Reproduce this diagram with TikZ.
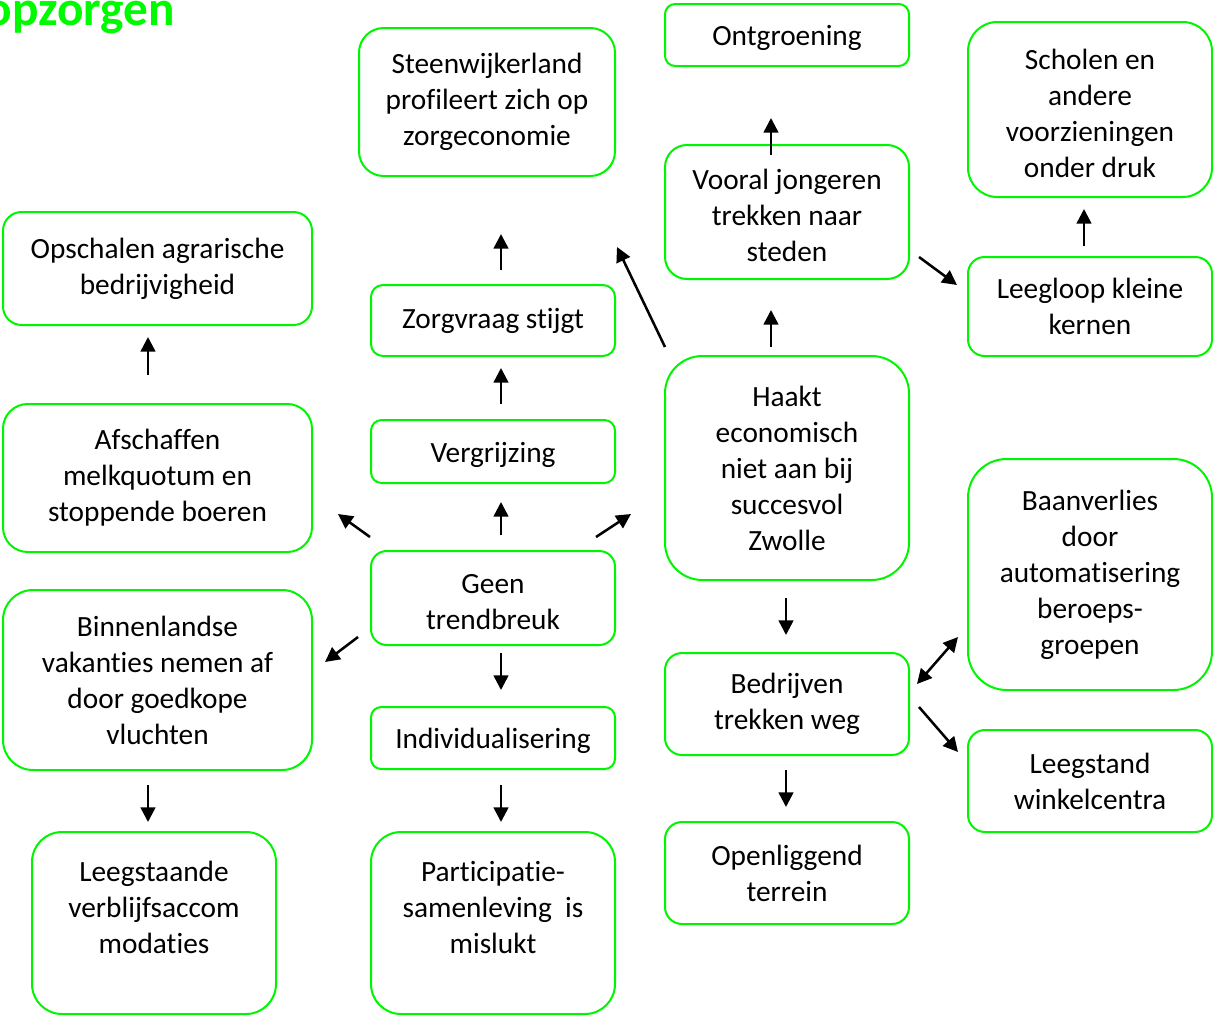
\documentclass[tikz,border=0pt]{standalone}
\usepackage{fontspec}
\setmainfont[Ligatures={NoCommon},RawFeature=-calt]{Carlito}
\usetikzlibrary{arrows.meta,calc}
\definecolor{boxgreen}{RGB}{0,245,0}
\definecolor{titlegreen}{RGB}{0,250,0}
\tikzset{
  box/.style={draw=boxgreen, line width=1.5pt, inner sep=0pt, outer sep=0pt, align=center,
    font=\fontsize{22}{27}\selectfont, text=black},
  oneline/.style={text height=16pt, text depth=0pt},
  arr/.style={line width=1.9pt, -{Triangle[length=11pt,width=11pt]}},
  darr/.style={line width=1.9pt, {Triangle[length=11pt,width=11pt]}-{Triangle[length=11pt,width=11pt]}}
}
\newcommand\topstrut{\rule{0pt}{20.5pt}}
\begin{document}
\begin{tikzpicture}[x=0.75pt,y=-0.75pt]
\useasboundingbox (0,0) rectangle (1213,1017);
\clip (0,0) rectangle (1213,1017);
\node[anchor=base east, inner sep=0pt, text=titlegreen, font=\fontsize{37}{40}\selectfont\bfseries] (title) at (175,26) {opzorgen};

\node[box, minimum width=192pt, minimum height=111pt, rounded corners=18.5pt] (steen) at (487,102) {Steenwijkerland\\profileert zich op\\zorgeconomie};
\node[box, oneline, minimum width=183pt, minimum height=46.5pt, rounded corners=7.7pt] (ontg) at (787,35) {Ontgroening};
\node[box, minimum width=183pt, minimum height=131.25pt, rounded corners=22pt] (scholen) at (1090,109.5) {\topstrut Scholen en\\andere\\voorzieningen\\onder druk};
\node[box, minimum width=231.75pt, minimum height=84.75pt, rounded corners=14pt] (opsch) at (157.5,268.5) {Opschalen agrarische\\bedrijvigheid};
\node[box, minimum width=183pt, minimum height=53.25pt, rounded corners=9pt] (zorg) at (493,320.5) {Zorgvraag stijgt};
\node[box, minimum width=183pt, minimum height=100.5pt, rounded corners=16.5pt] (vooral) at (787,212) {\topstrut Vooral jongeren\\trekken naar\\steden};
\node[box, minimum width=183pt, minimum height=74.25pt, rounded corners=12.4pt] (leegloop) at (1090,306.5) {Leegloop kleine\\kernen};
\node[box, minimum width=231.75pt, minimum height=111pt, rounded corners=18.5pt] (afsch) at (157.5,478) {Afschaffen\\melkquotum en\\stoppende boeren};
\node[box, oneline, minimum width=183pt, minimum height=47.25pt, rounded corners=8pt] (verg) at (493,451.5) {Vergrijzing};
\node[box, minimum width=183pt, minimum height=168pt, rounded corners=28pt] (haakt) at (787,468) {Haakt\\economisch\\niet aan bij\\succesvol\\Zwolle};
\node[box, minimum width=183pt, minimum height=173.25pt, rounded corners=29pt] (baan) at (1090,574.5) {Baanverlies\\door\\automatisering\\beroeps-\\groepen};
\node[box, minimum width=183pt, minimum height=70.5pt, rounded corners=11.8pt] (geen) at (493,598) {\topstrut Geen\\trendbreuk};
\node[box, minimum width=231.75pt, minimum height=135pt, rounded corners=22.5pt] (binnen) at (157.5,680) {Binnenlandse\\vakanties nemen af\\door goedkope\\vluchten};
\node[box, oneline, minimum width=183pt, minimum height=46.5pt, rounded corners=7.7pt] (indiv) at (493,738) {Individualisering};
\node[box, minimum width=183pt, minimum height=76.5pt, rounded corners=12.8pt] (bedr) at (787,704) {Bedrijven\\trekken weg};
\node[box, minimum width=183pt, minimum height=76.5pt, rounded corners=12.8pt] (leegst) at (1090,781) {Leegstand\\winkelcentra};
\node[box, minimum width=183pt, minimum height=136.5pt, rounded corners=22.5pt] (leegstaande) at (154,923) {Leegstaande\\verblijfsaccom\\modaties\\[-11pt]\strut};
\node[box, minimum width=183pt, minimum height=136.5pt, rounded corners=22.5pt] (partic) at (493,923) {Participatie-\\samenleving\ \ is\\mislukt\\[-11pt]\strut};
\node[box, minimum width=183pt, minimum height=76.5pt, rounded corners=12.8pt] (openl) at (787,873) {Openliggend\\terrein};

% arrows
\draw[arr] ($(geen.north)+(8,-16)$) -- ($(verg.south)+(8,19)$);
\draw[arr] ($(verg.north)+(8,-16)$) -- ($(zorg.south)+(8,12)$);
\draw[arr] ($(zorg.north)+(8,-15)$) -- ($(steen.south)+(14,58)$);
\draw[arr] ($(geen.north west)+(-1,-14)$) -- ($(afsch.east)+(26,36)$);
\draw[arr] ($(geen.north east)+(-19,-14)$) -- ($(haakt.west)+(-34,46)$);
\draw[arr] ($(geen.south west)+(-13,-8)$) -- ($(binnen.east)+(13,-18)$);
\draw[arr] ($(geen.south)+(8,8)$) -- ($(indiv.north)+(8,-17)$);
\draw[arr] ($(indiv.south)+(8,16)$) -- ($(partic.north)+(8,-10)$);
\draw[arr] ($(afsch.north)+(-9.5,-29)$) -- ($(opsch.south)+(-9.5,12)$);
\draw[arr] ($(binnen.south)+(-9.5,15)$) -- ($(leegstaande.north)+(-6,-10)$);
\draw[arr] ($(haakt.north west)+(0,-9)$) -- ($(steen.south east)+(2,71)$);
\draw[arr] ($(haakt.north)+(-16,-9)$) -- ($(vooral.south)+(-16,31)$);
\draw[arr] ($(vooral.north)+(-16,10)$) -- ($(ontg.south)+(-16,52)$);
\draw[arr] ($(vooral.east)+(10,45)$) -- ($(leegloop.west)+(-11,-21.5)$);
\draw[arr] ($(leegloop.north)+(-6,-11)$) -- ($(scholen.south)+(-6,12)$);
\draw[arr] ($(haakt.south)+(-1,18)$) -- ($(bedr.north)+(-1,-18)$);
\draw[arr] ($(bedr.south)+(-1,15)$) -- ($(openl.north)+(-1,-15)$);
\draw[darr] ($(bedr.east)+(8,-20)$) -- ($(baan.west)+(-10,62.5)$);
\draw[arr] ($(bedr.east)+(10,3)$) -- ($(leegst.west)+(-10,-29)$);
\end{tikzpicture}
\end{document}
